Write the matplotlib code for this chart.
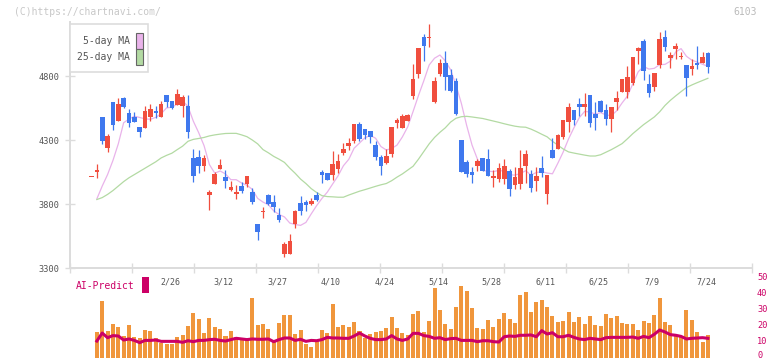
import numpy as np
import matplotlib
matplotlib.use("Agg")
import matplotlib.pyplot as plt
from matplotlib.patches import Rectangle
from matplotlib import transforms

# ---- data (one entry per trading day) ----
date_labels = ["2/26", "3/12", "3/27", "4/10", "4/24", "5/14",
               "5/28", "6/11", "6/25", "7/9", "7/24"]

opens = [4016, 4047, 4480, 4235, 4594, 4451, 4628, 4511, 4480, 4401,
         4396, 4480, 4526, 4480, 4651, 4605, 4573, 4566, 4566, 4162,
         4167, 4099, 3873, 3959, 4076, 4011, 3912, 3881, 3941, 3959,
         3894, 3644, 3740, 3870, 3816, 3717, 3409, 3409, 3646, 3808,
         3816, 3800, 3870, 4053, 4045, 4029, 4076, 4198, 4253, 4292,
         4425, 4386, 4370, 4261, 4167, 4120, 4193, 4433, 4396, 4448,
         4644, 4818, 5102, 5099, 4597, 4816, 4901, 4808, 4761, 4300,
         4128, 4050, 4097, 4159, 4152, 4006, 3998, 3998, 4060, 3951,
         3959, 4099, 4034, 3982, 4081, 3881, 4222, 4232, 4326, 4443,
         4534, 4581, 4560, 4651, 4503, 4605, 4534, 4467, 4599, 4678,
         4678, 4748, 4995, 5073, 4737, 4717, 4888, 5105, 4943, 5011,
         4951, 4886, 4857, 4904, 4904, 4982]
highs = [4016, 4112, 4480, 4347, 4594, 4625, 4638, 4542, 4519, 4401,
         4568, 4581, 4568, 4607, 4651, 4605, 4698, 4651, 4651, 4227,
         4222, 4183, 3912, 4053, 4152, 4066, 3982, 3946, 3974, 4019,
         3922, 3644, 3779, 3878, 3870, 3771, 3506, 3566, 3753, 3862,
         3831, 3847, 3894, 4068, 4045, 4217, 4191, 4277, 4316, 4425,
         4441, 4386, 4370, 4292, 4183, 4230, 4401, 4474, 4503, 4503,
         4894, 5021, 5128, 5206, 4792, 4933, 4995, 4855, 4782, 4300,
         4144, 4089, 4152, 4159, 4230, 4066, 4120, 4152, 4073, 4089,
         4222, 4222, 4066, 4089, 4175, 4027, 4316, 4347, 4456, 4589,
         4534, 4628, 4667, 4651, 4597, 4612, 4581, 4558, 4683, 4776,
         4878, 4948, 5026, 5089, 4816, 4823, 5144, 5159, 4990, 5058,
         4990, 4886, 4935, 5037, 4990, 4990]
lows = [4016, 4006, 4271, 4204, 4381, 4451, 4547, 4404, 4443, 4323,
        4396, 4448, 4469, 4480, 4560, 4542, 4573, 4480, 4318, 3974,
        4045, 4060, 3756, 3959, 4076, 3928, 3899, 3842, 3889, 3935,
        3803, 3521, 3693, 3792, 3740, 3662, 3389, 3409, 3615, 3714,
        3745, 3792, 3823, 3967, 3990, 3990, 4045, 4183, 4222, 4277,
        4295, 4310, 4279, 4146, 4029, 4112, 4170, 4394, 4396, 4448,
        4623, 4787, 4920, 5026, 4589, 4800, 4691, 4675, 4495, 4053,
        4014, 3967, 4058, 4060, 4021, 3933, 3974, 3959, 3865, 3920,
        3920, 3967, 3896, 3904, 4014, 3803, 4162, 4232, 4310, 4365,
        4420, 4487, 4487, 4404, 4381, 4519, 4417, 4365, 4537, 4678,
        4631, 4732, 4896, 4771, 4638, 4685, 4865, 4998, 4865, 4935,
        4935, 4646, 4810, 4857, 4904, 4826]
closes = [4016, 4068, 4292, 4331, 4417, 4581, 4555, 4435, 4443, 4365,
          4526, 4542, 4511, 4581, 4597, 4550, 4662, 4638, 4365, 4021,
          4099, 4159, 3894, 4034, 4105, 3982, 3935, 3894, 3904, 4019,
          3818, 3584, 3748, 3803, 3777, 3678, 3487, 3511, 3745, 3745,
          3792, 3823, 3831, 4029, 3990, 4112, 4136, 4230, 4277, 4425,
          4310, 4342, 4326, 4167, 4099, 4175, 4401, 4456, 4487, 4495,
          4776, 5021, 5034, 5105, 4761, 4901, 4795, 4683, 4503, 4053,
          4032, 4029, 4136, 4060, 4021, 4019, 4081, 4097, 3920, 4011,
          4081, 4191, 3928, 4019, 4045, 4027, 4162, 4339, 4456, 4558,
          4459, 4560, 4581, 4435, 4474, 4519, 4467, 4558, 4628, 4776,
          4792, 4948, 5019, 4842, 4670, 4823, 5089, 5029, 4967, 5034,
          4953, 4787, 4881, 4888, 4951, 4873]

ma5 = [None, 3840, 3940, 4030, 4140, 4270, 4435, 4464, 4486, 4476,
       4465, 4462, 4477, 4505, 4551, 4556, 4580, 4606, 4562, 4447,
       4357, 4256, 4108, 4041, 4058, 4035, 3990, 3990, 3964, 3947,
       3914, 3844, 3815, 3794, 3746, 3718, 3699, 3651, 3640, 3633,
       3656, 3723, 3787, 3844, 3893, 3957, 4020, 4099, 4149, 4236,
       4276, 4317, 4336, 4314, 4249, 4222, 4234, 4260, 4324, 4403,
       4523, 4647, 4763, 4886, 4939, 4964, 4919, 4849, 4729, 4587,
       4413, 4260, 4151, 4062, 4056, 4053, 4063, 4056, 4028, 4026,
       4038, 4060, 4026, 4046, 4053, 4042, 4036, 4118, 4206, 4308,
       4395, 4474, 4523, 4519, 4502, 4514, 4495, 4491, 4529, 4590,
       4644, 4740, 4833, 4875, 4854, 4860, 4889, 4891, 4916, 4988,
       5014, 4954, 4924, 4909, 4892, 4876]
ma25 = [None, 3835, 3850, 3875, 3905, 3940, 3975, 4005, 4030, 4055,
        4080, 4105, 4130, 4160, 4180, 4197, 4225, 4252, 4290, 4305,
        4312, 4320, 4332, 4340, 4346, 4351, 4352, 4352, 4340, 4326,
        4300, 4270, 4225, 4200, 4172, 4150, 4125, 4080, 4040, 3995,
        3960, 3920, 3890, 3865, 3858, 3856, 3853, 3853, 3870, 3885,
        3900, 3912, 3925, 3938, 3950, 3960, 3982, 4010, 4035, 4065,
        4095, 4150, 4210, 4270, 4320, 4360, 4395, 4440, 4470, 4482,
        4485, 4480, 4474, 4468, 4458, 4448, 4438, 4427, 4417, 4408,
        4402, 4400, 4385, 4366, 4345, 4325, 4290, 4260, 4230, 4207,
        4198, 4190, 4182, 4175, 4175, 4185, 4205, 4225, 4248, 4272,
        4310, 4350, 4385, 4420, 4450, 4480, 4520, 4570, 4610, 4645,
        4678, 4710, 4730, 4748, 4765, 4782]

volume = [0, 16.5, 35.6, 16.9, 21.3, 19.4, 13.5, 20.6, 13.2, 12.7,
          17.5, 16.9, 12.3, 9.5, 8.75, 8.75, 13.2, 14.4, 20.0, 28.2,
          24.4, 15.8, 25.2, 19.4, 18.1, 13.9, 17.0, 12.9, 12.3, 11.9,
          37.6, 20.6, 21.3, 18.1, 11.25, 22.0, 26.9, 26.9, 15.0, 17.5,
          8.75, 7.0, 11.0, 17.5, 15.7, 33.75, 19.4, 20.6, 19.4, 22.5,
          17.0, 12.6, 15.0, 16.4, 16.9, 18.9, 25.7, 18.75, 15.6, 14.4,
          27.5, 29.4, 16.25, 23.1, 43.9, 30.0, 21.25, 18.1, 31.9, 45.0,
          41.9, 31.25, 18.75, 18.1, 23.75, 19.4, 24.4, 28.1, 24.4, 22.0,
          39.4, 41.4, 28.75, 35.1, 36.4, 32.1, 26.25, 22.3, 23.1, 28.75,
          22.7, 25.6, 21.25, 26.25, 20.6, 20.2, 27.5, 25.2, 26.25, 21.9,
          21.25, 21.25, 17.7, 23.1, 21.9, 26.9, 37.7, 22.5, 20.6, 13.75,
          13.75, 30.0, 23.75, 16.25, 10.2, 14.4]
ai_predict = [None, 10.6, 15.6, 12.7, 14.0, 13.75, 11.25, 11.9, 11.0, 9.6,
              11.0, 11.0, 11.25, 10.4, 10.4, 10.4, 10.4, 9.8, 10.8, 10.2,
              11.0, 11.0, 11.5, 11.7, 11.0, 10.6, 11.5, 12.3, 11.9, 11.5,
              11.9, 11.7, 11.7, 11.9, 10.2, 11.5, 12.5, 12.5, 11.0, 11.7,
              10.4, 11.0, 10.8, 11.5, 12.9, 12.5, 12.5, 12.3, 12.3, 13.75,
              15.6, 13.75, 12.3, 11.5, 11.5, 11.9, 14.0, 11.9, 11.0, 11.9,
              15.4, 15.4, 14.0, 13.5, 12.3, 12.7, 11.5, 12.1, 12.3, 11.0,
              11.0, 11.0, 10.2, 10.8, 10.8, 10.2, 10.0, 13.3, 13.75, 13.5,
              14.2, 14.2, 14.4, 13.3, 17.1, 15.0, 15.8, 13.3, 13.3, 14.2,
              12.9, 11.9, 11.5, 12.3, 11.9, 11.5, 12.7, 12.9, 12.9, 12.9,
              12.9, 13.1, 12.3, 13.5, 12.7, 14.8, 17.5, 16.25, 14.6, 14.2,
              13.5, 11.9, 12.3, 12.5, 12.7, 12.3]
ai_ticks = [0, 10, 20, 30, 40, 50]

# ---- styling ----
UP = "#f04e3e"
DOWN = "#3f78ee"
GRID = "#dcdcdc"
TXT = "#555555"
CRIMSON = "#cc0066"
MONO = "DejaVu Sans Mono"

W, H = 772, 361


def box(l, t, r, b):
    return [l / W, 1 - b / H, (r - l) / W, (b - t) / H]


fig = plt.figure(figsize=(W / 100, H / 100), dpi=100)
ax = fig.add_axes(box(70, 22, 752, 268))
axv = fig.add_axes(box(70, 278, 752, 358))

o = np.array(opens, dtype=float)
h = np.array(highs, dtype=float)
l = np.array(lows, dtype=float)
c = np.array(closes, dtype=float)
x = np.arange(len(c))
xlim = (-4.01, 123.23)

cols = np.where(c >= o, UP, DOWN)
ax.vlines(x, l, h, colors=cols, lw=0.9, zorder=3)
body = np.abs(c - o)
minh = 9.0
bottom = np.minimum(o, c) - np.clip(minh - body, 0, None) / 2
ax.bar(x, np.maximum(body, minh), bottom=bottom, width=0.86,
       color=cols, linewidth=0, zorder=4)

ax.plot(x, np.array(ma5, dtype=float), color="#e9b3ea", lw=0.9, zorder=2)
ax.plot(x, np.array(ma25, dtype=float), color="#b3daa3", lw=0.9, zorder=2)

ax.set_xlim(*xlim)
ax.set_ylim(3300, 5222)
ax.set_yticks([3300, 3800, 4300, 4800])
ax.set_xticks(np.linspace(xlim[0], xlim[1], 12))
ax.tick_params(axis="x", direction="inout", length=6.5, width=1.0,
               color=GRID, labelbottom=False)
ax.tick_params(axis="y", direction="inout", length=6.5, width=1.0,
               color=GRID, labelsize=6.2, labelcolor=TXT, pad=4)
for lab in ax.get_yticklabels():
    lab.set_fontfamily(MONO)
for s in ("top", "right"):
    ax.spines[s].set_visible(False)
for s in ("left", "bottom"):
    ax.spines[s].set_color(GRID)
    ax.spines[s].set_linewidth(1.4)

# ---- lower panel ----
v = np.array(volume, dtype=float)
axv.bar(x[1:], v[1:], width=0.75, color="#f0963c", linewidth=0)
axv.plot(x, np.array(ai_predict, dtype=float), color=CRIMSON, lw=2.2)
axv.set_xlim(*xlim)
axv.set_ylim(0, 50)
axv.set_xticks([])
axv.set_yticks([])
for s in axv.spines.values():
    s.set_visible(False)

# right-hand scale, drawn as text so the bottom "0" stays inside the frame
rtrans = transforms.blended_transform_factory(fig.transFigure, axv.transData)
for t in ai_ticks:
    axv.text(757 / W, max(t, 1.6), str(t), transform=rtrans, ha="left",
             va="center", fontsize=6.2, color=CRIMSON, family=MONO,
             clip_on=False)

trans = transforms.blended_transform_factory(axv.transData, fig.transFigure)
for k, lab in enumerate(date_labels):
    axv.text(14.65 + 10 * k, 1 - 282 / H, lab, transform=trans,
             ha="center", va="center", fontsize=6, color=TXT,
             family=MONO, clip_on=False)

# ---- texts and legends ----
fig.text(14 / W, 1 - 12 / H, "(C)https://chartnavi.com/", fontsize=7,
         color="#c8c8c8", family=MONO, va="center")
fig.text(757 / W, 1 - 12 / H, "6103", fontsize=7, color="#bbbbbb",
         family=MONO, va="center", ha="right")

fig.add_artist(Rectangle((70 / W, 1 - 72 / H), 78 / W, 48 / H,
                         transform=fig.transFigure, facecolor="white",
                         edgecolor="#dddddd", lw=1.2, zorder=10))
for ty, lab, fc in ((41, "5-day MA", "#e9b3ea"), (57, "25-day MA", "#b3daa3")):
    fig.text(130 / W, 1 - ty / H, lab, fontsize=7, color=TXT, family=MONO,
             ha="right", va="center", zorder=11)
    fig.add_artist(Rectangle((136 / W, 1 - (ty + 7.5) / H), 7 / W, 15 / H,
                             transform=fig.transFigure, facecolor=fc,
                             edgecolor="#666666", lw=0.8, zorder=11))

fig.text(76 / W, 1 - 286 / H, "AI-Predict", fontsize=7, color=CRIMSON,
         family=MONO, va="center")
fig.add_artist(Rectangle((142 / W, 1 - 293 / H), 7 / W, 16 / H,
                         transform=fig.transFigure, facecolor=CRIMSON,
                         edgecolor="none"))

fig.savefig("out.png", dpi=100)
